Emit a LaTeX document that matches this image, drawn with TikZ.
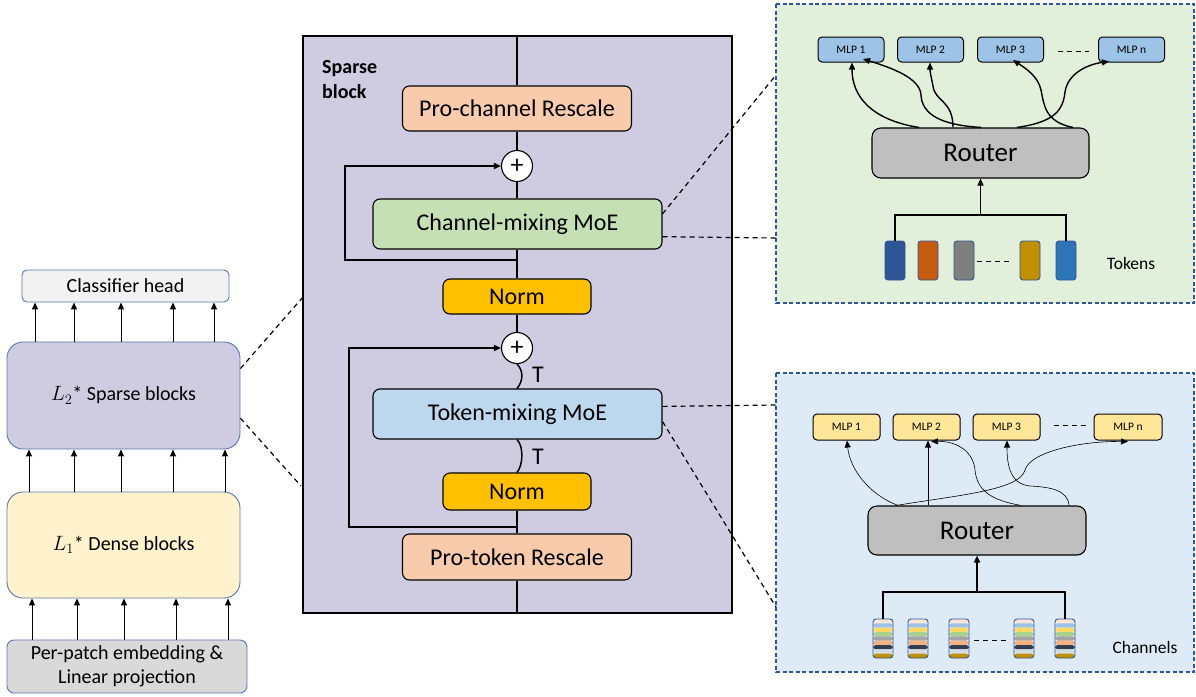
\documentclass[tikz,border=0pt]{standalone}
\usepackage{fontspec}
\setmainfont{Carlito}
\usetikzlibrary{arrows.meta,calc}

\definecolor{lav}{HTML}{CFCBE1}
\definecolor{headgray}{HTML}{F2F2F2}
\definecolor{densey}{HTML}{FFF2CC}
\definecolor{patchgray}{HTML}{D9D9D9}
\definecolor{edgeblue}{HTML}{5877AE}
\definecolor{rescale}{HTML}{F8CBAD}
\definecolor{chmix}{HTML}{C5E0B4}
\definecolor{tokmix}{HTML}{BDD7EE}
\definecolor{normy}{HTML}{FFC000}
\definecolor{gpanel}{HTML}{E2EFDA}
\definecolor{bpanel}{HTML}{DEEBF7}
\definecolor{panelline}{HTML}{2F5597}
\definecolor{mlpblue}{HTML}{9DC3E6}
\definecolor{mlpyel}{HTML}{FFE699}
\definecolor{routergray}{HTML}{BFBFBF}
\definecolor{tk1}{HTML}{2F5597}
\definecolor{tk2}{HTML}{C55A11}
\definecolor{tk3}{HTML}{7F7F7F}
\definecolor{tk4}{HTML}{BF9000}
\definecolor{tk5}{HTML}{2E75B6}
\definecolor{st1}{HTML}{FBE5D6}
\definecolor{st2}{HTML}{9DC3E6}
\definecolor{st3}{HTML}{FFD966}
\definecolor{st4}{HTML}{A9D18E}
\definecolor{st5}{HTML}{A5A5A5}
\definecolor{st6}{HTML}{F4B183}
\definecolor{st7}{HTML}{333F50}
\definecolor{st8}{HTML}{D6DCE5}
\definecolor{st9}{HTML}{BF9000}

\newcommand{\fs}[1]{\fontsize{#1}{#1}\selectfont}

\tikzset{
  arr/.style={-{Triangle[length=7pt,width=6pt]}},
  outerbox/.style={draw=edgeblue, line width=0.9pt, inner sep=0pt, align=center},
  blk/.style={draw=black, line width=1.1pt, rounded corners=7pt, inner sep=0pt, font=\fs{24}},
  pluscirc/.style={circle, draw=black, fill=white, line width=1.1pt, minimum size=31pt, inner sep=0pt, font=\fs{26}},
  flow/.style={line width=1.5pt},
  zoomline/.style={dashed, dash pattern=on 5pt off 4pt, line width=1.2pt},
  panelbox/.style={draw=panelline, dashed, dash pattern=on 4pt off 2.5pt, line width=1.1pt},
  mlp/.style={draw=black, line width=1pt, rounded corners=4pt, minimum width=66pt, minimum height=25pt, inner sep=0pt, font=\fs{11.5}},
  router/.style={draw=black, line width=1.1pt, fill=routergray, rounded corners=9pt, minimum width=217pt, minimum height=50pt, inner sep=0pt, font=\fs{27}},
  token/.style={draw=panelline, line width=0.9pt, rounded corners=3pt, minimum width=20pt, minimum height=39pt, inner sep=0pt},
  chan/.style={token, path picture={
    \foreach \c [count=\i from 0] in {st1,st2,st3,st4,st5,st6,st7,st8,st9}{
      \fill[\c] ($(path picture bounding box.north west)!\i/9!(path picture bounding box.south west)$)
        rectangle ($(path picture bounding box.north east)!\i/9+1/9!(path picture bounding box.south east)$);
    }}},
  curveA/.style={line width=1.4pt, arr},
  curveB/.style={line width=0.6pt, arr},
}

\begin{document}
\begin{tikzpicture}[x=1pt, y=-1pt]
\useasboundingbox (0,0) rectangle (1196,696);

% ---------- overall network (left column) ----------
\node[outerbox, fill=headgray, rounded corners=5pt, minimum width=207pt, minimum height=32pt, font=\fs{20}] (head) at (125.5,286) {Classifier head};
\node[outerbox, fill=lav, rounded corners=16pt, minimum width=233pt, minimum height=107pt, font=\fs{20}] (sparse) at (123.5,395.5) {$L_2$* Sparse blocks};
\node[outerbox, fill=densey, rounded corners=16pt, minimum width=233pt, minimum height=106pt, font=\fs{20}] (dense) at (123.5,545) {$L_1$* Dense blocks};
\node[outerbox, fill=patchgray, rounded corners=7pt, minimum width=240pt, minimum height=53pt, font=\fontsize{20}{24}\selectfont] (patch) at (127,666.5) {Per-patch embedding \&\\Linear projection};

\foreach \x in {32,77,124,176,228}
  \draw[arr, line width=1pt] ([xshift=\x pt-127pt]patch.north) -- ([xshift=\x pt-123.5pt]dense.south);
\foreach \x in {29,74,121,173,225}
  \draw[arr, line width=1pt] ([xshift=\x pt-123.5pt]dense.north) -- ([xshift=\x pt-123.5pt]sparse.south);
\foreach \x in {35,74,121,173,214}
  \draw[arr, line width=1pt] ([xshift=\x pt-123.5pt]sparse.north) -- ([xshift=\x pt-125.5pt]head.south);

% ---------- sparse block detail ----------
\node[draw=black, line width=1.3pt, fill=lav, minimum width=429pt, minimum height=577pt, inner sep=0pt] (sb) at (517.5,324.5) {};
\node[anchor=west, align=left, font=\bfseries\fontsize{20}{25}\selectfont, inner sep=0pt] (sbtitle) at (322,79.5) {Sparse\\block};

\node[blk, fill=rescale, minimum width=229pt, minimum height=45pt] (pcr) at (517,108.5) {Pro-channel Rescale};
\node[pluscirc] (plus1) at (517,166) {+};
\node[blk, fill=chmix, minimum width=289pt, minimum height=50pt] (cmoe) at (517.5,224) {Channel-mixing MoE};
\node[blk, fill=normy, minimum width=148pt, minimum height=35pt] (norm1) at (517,296.5) {Norm};
\node[pluscirc] (plus2) at (517,348) {+};
\node[blk, fill=tokmix, minimum width=289pt, minimum height=50pt] (tmoe) at (517.5,414) {Token-mixing MoE};
\node[blk, fill=normy, minimum width=148pt, minimum height=37pt] (norm2) at (517,491.5) {Norm};
\node[blk, fill=rescale, minimum width=229pt, minimum height=46pt] (ptr) at (517,557) {Pro-token Rescale};

\coordinate (sk1) at (517,260);
\coordinate (lp1) at (345,260);
\coordinate (sk2) at (517,527);
\coordinate (lp2) at (349,527);

\draw[flow] (sb.north -| pcr.north) -- (pcr.north);
\draw[flow] (pcr.south) -- (plus1.north);
\draw[flow] (cmoe.north -| plus1.south) -- (plus1.south);
\draw[flow] (cmoe.south -| norm1.north) -- (norm1.north);
\draw[flow, arr] (sk1) -- (lp1) |- (plus1.west);
\draw[flow] (norm1.south) -- (plus2.north);
\draw[flow] (plus2.south) .. controls +(7,7) and +(6,-7) .. (tmoe.north -| plus2.south);
\draw[flow] (tmoe.south -| norm2.north) .. controls +(7,7) and +(6,-7) .. (norm2.north);
\draw[flow] (norm2.south) -- (ptr.north);
\draw[flow, arr] (sk2) -- (lp2) |- (plus2.west);
\draw[flow] (ptr.south) -- (sb.south -| ptr.south);
\node[font=\fs{24}] (t1) at (538,375) {T};
\node[font=\fs{24}] (t2) at (538,457) {T};

% ---------- expert panels ----------
\draw[panelbox, fill=gpanel] (776,4) rectangle (1194,303);
\draw[panelbox, fill=bpanel] (776,373) rectangle (1194,672);

\coordinate (sbw1) at (303,297);
\coordinate (sbw2) at (301,486);
\coordinate (gpa) at (776,75);
\coordinate (gpb) at (776,238);
\coordinate (bpa) at (776,405);
\coordinate (bpb) at (776,607);

% zoom guides
\draw[zoomline] (sparse.13.7) -- (sbw1);
\draw[zoomline] (sparse.-11.9) -- (sbw2);
\draw[zoomline] (cmoe.4.4) -- (gpa);
\draw[zoomline] (cmoe.-5.5) -- (gpb);
\draw[zoomline] (tmoe.3.6) -- (bpa);
\draw[zoomline] (tmoe.-3.6) -- (bpb);

% channel-mixing experts (tokens)
\node[mlp, fill=mlpblue] (ma1) at (851,49.5) {MLP 1};
\node[mlp, fill=mlpblue] (ma2) at (930.5,49.5) {MLP 2};
\node[mlp, fill=mlpblue] (ma3) at (1010.5,49.5) {MLP 3};
\node[mlp, fill=mlpblue] (man) at (1131.5,49.5) {MLP n};
\draw[dashed, dash pattern=on 5pt off 4pt, line width=1pt] (ma3.east) ++(14,1.5) coordinate (da1) -- ++(31,0) coordinate (da2);
\node[router] (ra) at (980.5,153) {Router};

\node[token, fill=tk1] (ta1) at (895,260.5) {};
\node[token, fill=tk2] (ta2) at (928,260.5) {};
\node[token, fill=tk3] (ta3) at (964,260.5) {};
\node[token, fill=tk4] (ta4) at (1030,260.5) {};
\node[token, fill=tk5] (ta5) at (1066,260.5) {};
\draw[dashed, dash pattern=on 5pt off 4pt, line width=1pt] ([xshift=3pt,yshift=-1pt]ta3.east) -- ([xshift=-8pt,yshift=-1pt]ta4.west);
\node[font=\fs{17.5}] (toklbl) at (1131,263) {Tokens};

\coordinate (busa) at (980.5,215);
\draw[line width=1.3pt] (ta1.north) |- (busa) -| (ta5.north);
\draw[line width=1.3pt, arr] (busa) -- (ra.south);

\draw[curveA] ([xshift=-61.5pt]ra.north) .. controls (872,120) and (852,97) .. ([xshift=1pt]ma1.south);
\draw[curveA] ([xshift=0.5pt]ra.north) .. controls (940,125) and (922,114) .. (921,95)
  .. controls (920,78) and (892,68) .. ([xshift=12pt,yshift=3.5pt]ma1.south);
\draw[curveA] ([xshift=-27.5pt]ra.north) .. controls (953,100) and (935,102) .. (933,86)
  .. controls (931,76) and (930,72) .. ([xshift=-0.5pt]ma2.south);
\draw[curveA] ([xshift=92.5pt]ra.north) .. controls (1045,122) and (1044,105) .. (1041,90)
  .. controls (1038,76) and (1025,68) .. ([xshift=2.5pt,yshift=2.5pt]ma3.south);
\draw[curveA] ([xshift=36.5pt]ra.north) .. controls (1055,122) and (1063,110) .. (1065,92)
  .. controls (1068,72) and (1090,64) .. ([xshift=-22.5pt,yshift=1pt]man.south);

% token-mixing experts (channels)
\node[mlp, fill=mlpyel, minimum width=67pt, minimum height=26pt] (mb1) at (846.5,427) {MLP 1};
\node[mlp, fill=mlpyel, minimum width=67pt, minimum height=26pt] (mb2) at (926.5,427) {MLP 2};
\node[mlp, fill=mlpyel, minimum width=67pt, minimum height=26pt] (mb3) at (1006.5,427) {MLP 3};
\node[mlp, fill=mlpyel, minimum width=68pt, minimum height=26pt] (mbn) at (1128,427) {MLP n};
\draw[dashed, dash pattern=on 5pt off 4pt, line width=1pt] ([xshift=13pt,yshift=2pt]mb3.east) -- ([xshift=-8pt,yshift=2pt]mbn.west);
\node[router, minimum width=218pt, minimum height=49pt] (rb) at (977,530.5) {Router};

\node[chan] (cb1) at (883,638.5) {};
\node[chan] (cb2) at (918,638.5) {};
\node[chan] (cb3) at (959,638.5) {};
\node[chan] (cb4) at (1024,638.5) {};
\node[chan] (cb5) at (1065,638.5) {};
\draw[dashed, dash pattern=on 5pt off 4pt, line width=1pt] ([xshift=5pt,yshift=-1.5pt]cb3.east) -- ([xshift=-6pt,yshift=-1.5pt]cb4.west);
\node[font=\fs{17.5}] (chlbl) at (1145,647) {Channels};

\coordinate (busb) at (977,592);
\draw[line width=1.3pt] (cb1.north) |- (busb) -| (cb5.north);
\draw[line width=1.6pt, arr] (busb) -- (rb.south);

\draw[curveB] ([xshift=-79pt]rb.north) .. controls (870,495) and (850,470) .. ([xshift=0.5pt]mb1.south);
\draw[curveB] ([xshift=-49pt]rb.north) -- ([xshift=1.5pt]mb2.south);
\draw[curveB] ([xshift=44pt]rb.north) .. controls (990,500) and (977,490) .. (975,470)
  .. controls (973,450) and (955,441) .. ([xshift=4.5pt,yshift=-1pt]mb2.south);
\draw[curveB] ([xshift=92pt]rb.north) .. controls (1068,490) and (1050,487) .. (1030,486)
  .. controls (1010,484) and (1007,465) .. ([xshift=0.5pt]mb3.south);
\draw[curveB] ([xshift=-81pt]rb.north) .. controls (960,495) and (1020,490) .. (1025,470)
  .. controls (1030,452) and (1080,441) .. ([xshift=0pt,yshift=-1pt]mbn.south);
\end{tikzpicture}
\end{document}
